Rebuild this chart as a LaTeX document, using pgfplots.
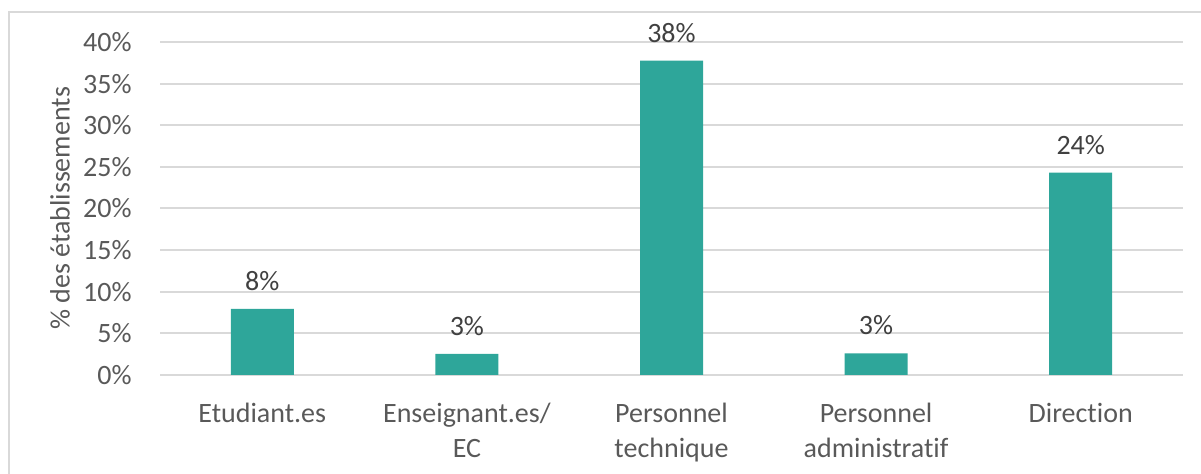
\documentclass[border=0pt]{standalone}
\usepackage{pgfplots}
\pgfplotsset{compat=1.18}
\usepackage{pgfplotstable}
\usepackage{fontspec}
\setmainfont[Ligatures=NoCommon]{Carlito}
\definecolor{barteal}{HTML}{2EA69A}
\definecolor{txtgray}{HTML}{595959}
\definecolor{lblgray}{HTML}{404040}
\definecolor{gridgray}{HTML}{D9D9D9}

\pgfplotstableread{
x y lab
0 7.95 8
1 2.55 3
2 37.75 38
3 2.6 3
4 24.3 24
}\roles

\begin{document}
\begin{tikzpicture}
  \useasboundingbox (0,0) rectangle (600.5pt,237pt);
  \draw[gridgray, line width=1.2pt] (4.6pt,-2pt) -- (4.6pt,231pt) -- (603pt,231pt);
  \begin{axis}[
      at={(80pt,49.5pt)}, anchor=south west,
      scale only axis,
      width=511.5pt, height=166.5pt,
      xmin=-0.5, xmax=4.5,
      ymin=0, ymax=40,
      ytick={0,5,...,40},
      yticklabel={\pgfmathprintnumber{\tick}\%},
      xtick=data,
      xticklabels={Etudiant.es,{Enseignant.es/\\EC},{Personnel\\technique},{Personnel\\administratif},Direction},
      /pgf/number format/assume math mode=true,
      axis line style={draw=none},
      major tick length=0pt,
      ymajorgrids=true,
      grid style={gridgray, line width=1pt},
      tick label style={font=\fontsize{14}{17.5}\selectfont, text=txtgray},
      yticklabel style={inner sep=0pt, xshift=-14pt},
      xticklabel style={align=center, inner sep=0pt, yshift=-14pt},
      ylabel={\% des établissements},
      ylabel style={at={(axis description cs:-0.0978,0.5)}, anchor=center,
        font=\fontsize{14}{17}\selectfont, text=txtgray},
      ybar, bar width=31.5pt,
      point meta=explicit symbolic,
      nodes near coords={\pgfplotspointmeta\%},
      every node near coord/.append style={font=\fontsize{14}{17}\selectfont,
        text=lblgray, inner sep=0pt, yshift=9pt},
    ]
    \addplot[fill=barteal, draw=none] table[x=x, y=y, meta=lab] {\roles};
  \end{axis}
\end{tikzpicture}
\end{document}
